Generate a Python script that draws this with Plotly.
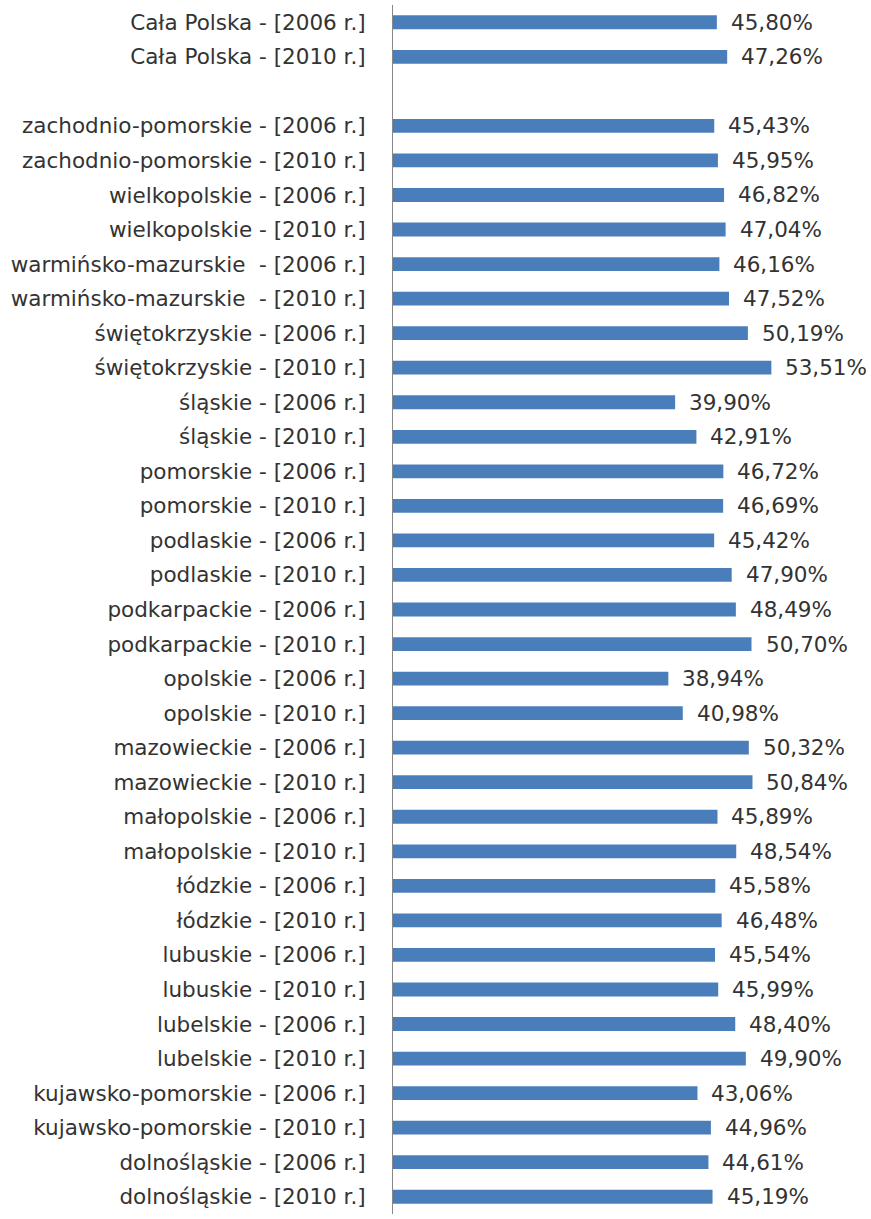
import plotly.graph_objects as go

regions = ["Cała Polska", None, "zachodnio-pomorskie", "wielkopolskie", "warmińsko-mazurskie ",
           "świętokrzyskie", "śląskie", "pomorskie", "podlaskie", "podkarpackie", "opolskie",
           "mazowieckie", "małopolskie", "łódzkie", "lubuskie", "lubelskie",
           "kujawsko-pomorskie", "dolnośląskie"]
years = ["2006", "2010"]
values_2006 = [45.80, None, 45.43, 46.82, 46.16, 50.19, 39.90, 46.72, 45.42, 48.49, 38.94,
               50.32, 45.89, 45.58, 45.54, 48.40, 43.06, 44.61]
values_2010 = [47.26, None, 45.95, 47.04, 47.52, 53.51, 42.91, 46.69, 47.90, 50.70, 40.98,
               50.84, 48.54, 46.48, 45.99, 49.90, 44.96, 45.19]

cats, vals = [], []
for r, a, b in zip(regions, values_2006, values_2010):
    if r is None:
        cats.append(" ")
        vals.append(None)
        continue
    cats.append(f"{r} - [{years[0]} r.]"); vals.append(a)
    cats.append(f"{r} - [{years[1]} r.]"); vals.append(b)

FONT = "DejaVu Sans"

fig = go.Figure(go.Bar(
    x=vals, y=cats, orientation="h", width=0.4,
    marker=dict(color="#4A7EBB", line=dict(width=0)),
    hoverinfo="skip",
))

for c, v in zip(cats, vals):
    if v is None:
        continue
    fig.add_annotation(x=v, y=c, text=f"{v:.2f}%".replace(".", ","), showarrow=False,
                       xanchor="left", xshift=12, font=dict(size=21.5, color="#333333",
                       family=FONT))

fig.update_layout(
    width=871, height=1219,
    margin=dict(l=393, r=0, t=5, b=5),
    paper_bgcolor="white", plot_bgcolor="white",
    showlegend=False,
    font=dict(family=FONT, size=21.5, color="#333333"),
    xaxis=dict(range=[0, 67.6], visible=False, showgrid=False, zeroline=False),
    yaxis=dict(categoryorder="array", categoryarray=cats, autorange="reversed",
               showline=True, linecolor="#888888", linewidth=1, showgrid=False,
               ticks="outside", ticklen=22, tickcolor="rgba(0,0,0,0)",
               tickfont=dict(size=21.5, color="#333333", family=FONT)),
)

fig.write_html("out.html")
